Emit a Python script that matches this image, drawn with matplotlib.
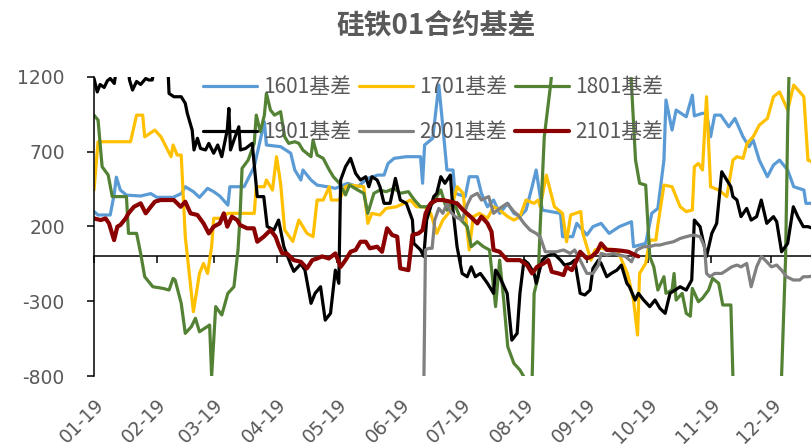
import matplotlib
matplotlib.use('Agg')
import matplotlib.pyplot as plt
import pandas as pd

# ---------------- data (day offset from 01-19, basis value) ----------------
s1601 = [(0,300),(2,277),(8,277),(10,420),(11,530),(13,444),(16,410),(23,404),(28,420),(31,395),
         (39,395),(43,420),(45,466),(49,433),(52,395),(56,455),(59,433),(62,404),(66,343),(67,466),
         (74,466),(79,600),(84,900),(85,745),(92,734),(97,690),(99,578),(102,511),(103,578),(107,511),
         (110,477),(115,466),(119,455),(125,489),(130,466),(135,522),(140,544),(143,544),(145,622),
         (148,656),(154,667),(161,667),(162,489),(163,745),(167,790),(170,1146),(172,867),(174,578),
         (177,578),(178,422),(183,400),(185,533),(189,533),(191,422),(194,332),(197,377),(200,288),
         (204,355),(207,288),(210,266),(213,310),(216,466),(218,578),(221,310),(225,300),(230,288),
         (231,132),(236,132),(238,221),(243,143),(246,199),(250,221),(254,154),(259,199),(263,221),
         (265,232),(266,65),(269,76),(272,87),(275,288),(278,321),(281,644),(282,1046),(285,845),
         (287,979),(292,934),(295,1079),(296,940),(300,957),(302,957),(304,800),(306,945),(309,945),
         (313,867),(316,923),(320,800),(323,734),(325,778),(328,644),(332,533),(335,611),(338,644),
         (342,578),(345,466),(350,444),(351,355),(354,355)]

s1701 = [(0,444),(2,767),(18,767),(21,945),(24,945),(25,800),(30,845),(33,800),(38,667),(39,745),
         (41,678),(43,678),(45,132),(49,-370),(52,-114),(54,-47),(56,-114),(58,65),(59,255),(63,255),
         (66,288),(79,288),(80,466),(84,466),(85,511),(88,444),(90,667),(92,489),(94,177),(98,100),
         (101,243),(105,154),(108,132),(110,377),(113,377),(116,466),(117,377),(121,377),(124,466),
         (126,477),(133,466),(135,221),(137,288),(141,277),(144,321),(149,332),(153,355),(156,377),
         (159,332),(163,332),(166,288),(169,154),(172,243),(176,310),(179,466),(182,422),(185,43),
         (187,266),(190,288),(194,255),(197,332),(200,310),(204,266),(207,243),(210,266),(213,377),
         (217,355),(219,377),(220,332),(223,544),(227,332),(231,288),(233,98),(235,277),(240,300),
         (241,154),(245,-25),(247,43),(250,54),(258,43),(263,-114),(266,-292),(268,-526),(269,-114),
         (272,-47),(274,109),(277,109),(278,210),(281,477),(285,466),(289,332),(292,300),(295,310),
         (296,600),(298,622),(300,578),(302,1068),(304,466),(308,444),(312,400),(315,644),(317,667),
         (320,656),(322,756),(325,800),(328,878),(332,923),(335,1068),(338,1100),(342,979),(345,1146),
         (350,1068),(352,644),(354,633)]

s1801 = [(0,945),(2,912),(4,600),(7,544),(9,400),(16,400),(17,154),(21,154),(23,20),(25,-136),
         (29,-203),(34,-214),(37,-225),(39,-147),(40,-158),(43,-314),(45,-515),(48,-470),(50,-414),
         (52,-504),(57,-459),(58,-800),(60,-336),(63,-392),(66,-247),(69,-203),(71,43),(72,266),
         (73,589),(76,644),(79,756),(80,945),(82,834),(84,945),(85,1090),(87,979),(89,945),(92,968),
         (94,800),(96,756),(99,767),(101,756),(103,711),(107,667),(108,778),(110,678),(113,656),
         (116,578),(118,533),(121,489),(124,411),(126,477),(130,444),(133,422),(135,288),(138,422),
         (141,444),(144,433),(148,455),(151,422),(155,433),(158,377),(161,332),(164,332),(167,355),
         (171,444),(174,310),(177,377),(181,243),(184,199),(186,65),(189,98),(192,65),(195,43),
         (198,-336),(200,-25),(202,-292),(204,-604),(207,-715),(210,-760),(213,-830),(216,-830),
         (217,-247),(219,-136),(220,200),(222,800),(225,1135),(227,1400),(264,1400),(267,644),
         (269,489),(272,477),(274,0),(276,-70),(278,-225),(281,-136),(282,-247),(285,-225),(286,-114),
         (287,-292),(290,-247),(292,-381),(294,-400),(295,-214),(298,-303),(300,-280),(303,-225),
         (305,-147),(308,-180),(310,-325),(314,-325),(315,-800),(316,-1000),(338,-1000),(339,-800),
         (341,0),(342,867),(343,1400),(354,1400)]

s1901 = [(0,1190),(1.6,1100),(3,1150),(5,1130),(6.6,1175),(8,1190),(10,1157),(11,1250),(17,1250),
         (17.5,1180),(19,1113),(21,1170),(23,1150),(25.5,1190),(27,1180),(28.7,1180),(29.6,1250),
         (36.5,1250),(37,1090),(39.4,1068),(43,1068),(45,1024),(46,957),(48.4,845),(49.3,712),(51,790),
         (52.5,722),(55,712),(56.6,756),(59,690),(61,745),(63,667),(65.7,845),(66.5,990),(67.3,712),
         (69,778),(71.4,867),(72.2,712),(74.7,722),(78,756),(80.5,400),(83.7,400),(85.4,200),(88.7,176),
         (91,243),(93.6,65),(96.9,-50),(98.5,-100),(102,-50),(104,-92),(107,-314),(109,-247),
         (111.7,-203),(114,-426),(116.6,-381),(119,-92),(120.7,-180),(121.6,511),(124,600),(126.5,656),
         (129,555),(131.4,511),(134,533),(135.5,466),(137,533),(139.6,511),(141,466),(143,355),(146,355),
         (148.6,522),(151,377),(154,355),(157,243),(157.7,87),(161,43),(162.6,0),(164,243),(167.5,400),
         (169,422),(171,533),(173,489),(175.7,544),(177,310),(179,65),(181.5,-114),(184,-136),(186,-70),
         (188,-136),(190.5,-114),(194,-180),(197,-247),(198,-92),(200,-136),(203.7,-247),(206,-560),
         (208.6,-515),(210,-247),(212,-25),(214,-47),(217,-114),(218,-180),(221,-25),(223,0),(226.6,20),
         (230,-25),(232,-58),(235,-47),(237,-25),(239.7,-247),(242,-258),(244.6,-225),(246,-80),
         (248.7,-25),(250,-47),(252.8,-136),(255,-114),(257.8,-92),(260,-58),(262.7,-180),(264,-203),
         (266.8,-292),(268.4,-247),(271,-292),(274,-336),(276.6,-292),(279,-347),(281.6,-381),(284,-247),
         (286.5,-225),(289,-203),(292,-225),(294.7,-158),(296,243),(298.8,199),(302,0),(304.6,154),
         (307,221),(309.5,566),(312,511),(314,466),(315,400),(317,377),(319,266),(321.8,321),(324,243),
         (326.7,266),(329,377),(331.7,221),(335,266),(336.6,232),(339,31),(342,87),(344.8,332),(347,266),
         (349.7,199),(352,199),(354,190)]

s2001 = [(162.5,-1000),(163.4,43),(165,54),(166.7,54),(168,243),(170,321),(172,288),(174,355),
         (175.7,300),(178,266),(181.5,243),(184,344),(186,400),(189,422),(191,377),(194.6,400),(197,288),
         (200,321),(203.7,355),(207,300),(209,277),(212,221),(215,176),(218,154),(220,130),(222.5,31),
         (225,31),(228,31),(231.5,43),(234.8,20),(237,43),(239.7,-25),(243,-114),(246,-114),(248.7,-58),
         (250,20),(252.8,9),(256,20),(259,9),(262,0),(265,-36),(267.6,43),(271,65),(274,65),(276.6,76),
         (279,76),(282,87),(285.7,98),(289,120),(292,132),(295.5,143),(298.8,132),(301,65),(302,-114),
         (303.7,-136),(306,-114),(309.5,-114),(312,-92),(314.4,-70),(317,-58),(319,-70),(321.8,-47),
         (324,-203),(326.7,-70),(329,0),(331.7,-36),(334,-70),(336.6,-58),(339,-92),(341.5,-136),
         (344.8,-158),(348,-158),(349.7,-136),(352,-136),(354,-132)]

s2101 = [(0,254),(3.3,243),(5.7,254),(7.4,221),(9.9,109),(11.5,199),(13,210),(15.6,254),(17,288),
         (19.7,332),(23,355),(25.5,288),(28,332),(30,366),(32.8,377),(36,377),(39.4,377),(42.7,332),
         (45,366),(47.6,288),(51,277),(54,221),(56.6,154),(59,199),(62,221),(64,288),(65.7,199),(68,266),
         (70.6,243),(72,210),(75.5,188),(78.8,188),(80.5,98),(83.7,132),(87,176),(89.5,132),(91,76),
         (92.8,20),(95,20),(98.5,-25),(102,-36),(105,-80),(107.6,-25),(110,-14),(112.5,0),(115.8,-14),
         (119,20),(121.6,-70),(124,-25),(126.5,31),(129,43),(131.4,98),(134,98),(136,54),(139.6,65),
         (142,31),(144.5,188),(147,143),(149.5,132),(151,-80),(155,-92),(157,143),(160,154),(162,176),
         (163.5,288),(166,355),(169,377),(172,377),(175.7,366),(179,355),(182,310),(185.6,266),(189,221),
         (191,266),(194,221),(196,165),(197,43),(200,31),(203.7,-25),(207,-25),(210,-25),(213.5,-58),
         (216,-114),(218.4,-70),(221.7,-47),(224,-25),(225.7,-103),(229,-114),(231.5,-125),(233,-70),
         (235.6,-92),(238,-25),(239.7,31),(243,-14),(245.4,0),(248,31),(250,87),(252.8,43),(256,43),
         (260,38),(263.5,31),(266.8,9),(268.4,0)]

series_names = ['1601基差', '1701基差', '1801基差', '1901基差', '2001基差', '2101基差']
series_data = [s1601, s1701, s1801, s1901, s2001, s2101]
series_colors = ['#5B9BD5', '#FFC000', '#548235', '#000000', '#808080', '#8B0000']
series_widths = [2.3, 2.3, 2.3, 2.3, 2.3, 3.0]

title = '硅铁01合约基差'
start_date = '2019-01-19'
tick_dates = ['2019-%02d-19' % m for m in range(1, 13)]
tick_labels = ['%02d-19' % m for m in range(1, 13)]
y_ticks = [-800, -300, 200, 700, 1200]

# ---------------- figure ----------------
W, H = 812, 446
fig = plt.figure(figsize=(W / 100, H / 100), dpi=100)
ax = fig.add_axes([94 / W, 1 - 376 / H, (W - 94) / W, 299 / H])

handles = []
for name, data, col, lw in zip(series_names, series_data, series_colors, series_widths):
    xs = [p[0] for p in data]
    ys = [p[1] for p in data]
    h, = ax.plot(xs, ys, color=col, lw=lw, label=name, solid_joinstyle='round',
                 solid_capstyle='round')
    handles.append(h)

t0 = pd.Timestamp(start_date)
tick_pos = [(pd.Timestamp(d) - t0).days for d in tick_dates]

ax.set_xlim(0, 354)
ax.set_ylim(-800, 1200)
ax.set_yticks(y_ticks)
ax.set_yticklabels([str(v) for v in y_ticks])

for s in ['top', 'right']:
    ax.spines[s].set_visible(False)
ax.spines['left'].set_color('black')
ax.spines['left'].set_linewidth(1.1)
ax.spines['bottom'].set_position(('data', 0))
ax.spines['bottom'].set_color('black')
ax.spines['bottom'].set_linewidth(1.1)
ax.spines['bottom'].set_zorder(1.5)

ax.set_xticks(tick_pos)
ax.tick_params(axis='x', direction='out', length=5, width=1.1, color='black', labelbottom=False)
ax.tick_params(axis='y', direction='out', length=5, width=1.1, color='black',
               labelsize=13.5, labelcolor='#595959', pad=16)

sec = ax.secondary_xaxis(0.0)
sec.set_xticks(tick_pos)
sec.set_xticklabels(tick_labels)
sec.spines['bottom'].set_visible(False)
sec.tick_params(axis='x', length=0, pad=14, labelsize=13.5, labelcolor='#595959')
for lab in sec.get_xticklabels():
    lab.set_rotation(45)
    lab.set_ha('right')
    lab.set_va('top')
    lab.set_rotation_mode('anchor')

# legend: row-wise order
order = [0, 3, 1, 4, 2, 5]
leg = ax.legend([handles[i] for i in order], [series_names[i] for i in order],
                ncol=3, loc='upper left', bbox_to_anchor=((203 - 94) / (W - 94), (376 - 76) / 299),
                frameon=False, prop={'family': ['Noto Sans CJK SC', 'DejaVu Sans'], 'size': 15},
                handlelength=2.6, handletextpad=0.3, columnspacing=0.35, labelspacing=1.1,
                borderpad=0, borderaxespad=0)
for t in leg.get_texts():
    t.set_color('#595959')

fig.text(436 / W, 1 - 25 / H, title, ha='center', va='center', fontsize=20, fontweight='bold',
         color='#595959', family=['Noto Sans CJK SC', 'DejaVu Sans'])

fig.savefig('out.png', dpi=100)
